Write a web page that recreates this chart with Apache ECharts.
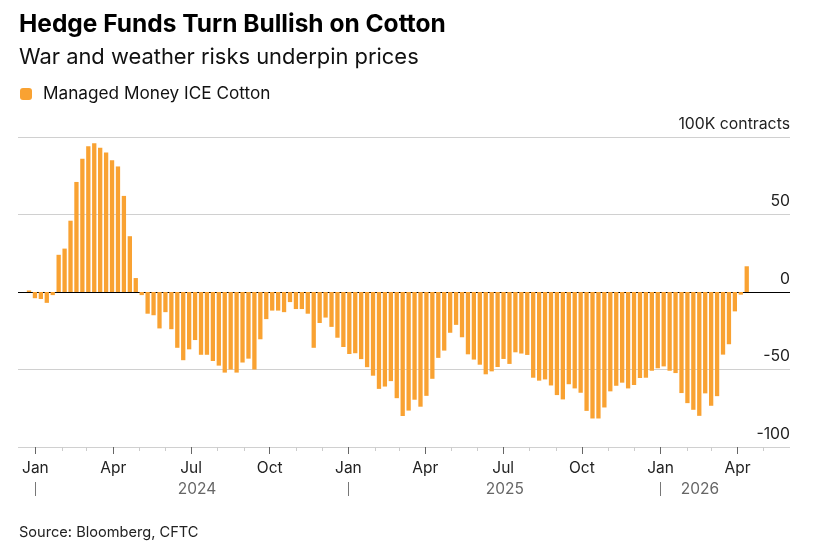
<!DOCTYPE html>
<html>
<head>
<meta charset="utf-8">
<script src="https://cdn.jsdelivr.net/npm/echarts@6/dist/echarts.min.js"></script>
<style>
html,body{margin:0;padding:0;background:#fff;}
#chart{width:821px;height:550px;}
</style>
</head>
<body>
<div id="chart"></div>
<script>
// ---- data ----
const weekDates = [
  '2023-12-26',
  '2024-01-02','2024-01-09','2024-01-16','2024-01-23','2024-01-30','2024-02-06','2024-02-13','2024-02-20','2024-02-27',
  '2024-03-05','2024-03-12','2024-03-19','2024-03-26','2024-04-02','2024-04-09','2024-04-16','2024-04-23','2024-04-30',
  '2024-05-07','2024-05-14','2024-05-21','2024-05-28','2024-06-04','2024-06-11','2024-06-18','2024-06-25','2024-07-02',
  '2024-07-09','2024-07-16','2024-07-23','2024-07-30','2024-08-06','2024-08-13','2024-08-20','2024-08-27','2024-09-03',
  '2024-09-10','2024-09-17','2024-09-24','2024-10-01','2024-10-08','2024-10-15','2024-10-22','2024-10-29','2024-11-05',
  '2024-11-12','2024-11-19','2024-11-26','2024-12-03','2024-12-10','2024-12-17','2024-12-24','2024-12-31',
  '2025-01-07','2025-01-14','2025-01-21','2025-01-28','2025-02-04','2025-02-11','2025-02-18','2025-02-25','2025-03-04',
  '2025-03-11','2025-03-18','2025-03-25','2025-04-01','2025-04-08','2025-04-15','2025-04-22','2025-04-29','2025-05-06',
  '2025-05-13','2025-05-20','2025-05-27','2025-06-03','2025-06-10','2025-06-17','2025-06-24','2025-07-01','2025-07-08',
  '2025-07-15','2025-07-22','2025-07-29','2025-08-05','2025-08-12','2025-08-19','2025-08-26','2025-09-02','2025-09-09',
  '2025-09-16','2025-09-23','2025-09-30','2025-10-07','2025-10-14','2025-10-21','2025-10-28','2025-11-04','2025-11-11',
  '2025-11-18','2025-11-25','2025-12-02','2025-12-09','2025-12-16','2025-12-23','2025-12-30',
  '2026-01-06','2026-01-13','2026-01-20','2026-01-27','2026-02-03','2026-02-10','2026-02-17','2026-02-24','2026-03-03',
  '2026-03-10','2026-03-17','2026-03-24','2026-03-31','2026-04-07','2026-04-14','2026-04-21'
];
// Managed money net position, thousand contracts
const cottonNet = [
  1,
  -4, -4.5, -7, -2, 24, 28, 46, 71, 86,
  94, 96, 93, 90, 85, 81, 62, 36, 9,
  -2, -14, -15, -23.5, -13, -24, -36, -44, -37,
  -31, -40.5, -40.5, -44.5, -47.5, -52, -50, -52, -45.5,
  -43, -50, -30.5, -17.5, -12, -12, -13, -6.5, -11,
  -11, -14, -36, -20, -16.5, -22.5, -29.5, -35.5,
  -40, -39.5, -43.3, -48.5, -54, -62.5, -61, -57.5, -68.5,
  -80, -76.5, -69.5, -74, -67, -56, -42.5, -37.8, -26.3,
  -21.2, -29.2, -40.2, -43.6, -46.9, -53.1, -51.2, -48.4, -43.2,
  -46.4, -38.9, -39.7, -40.6, -55.3, -57.2, -56.4, -60.3, -66.5,
  -69.3, -59.5, -62.2, -65, -76.7, -81.6, -81.6, -74.5, -64.1,
  -60.5, -58.5, -62.2, -60, -55.5, -55.3,
  -50.8, -49.2, -48, -50.8, -52.3, -65.2, -71.7, -76, -79.9,
  -65.4, -73.4, -67.2, -40.4, -33.7, -12.5, -1.7, 16.6
];
const quarterTicks = ['2024-01-01','2024-04-01','2024-07-01','2024-10-01','2025-01-01','2025-04-01','2025-07-01','2025-10-01','2026-01-01','2026-04-01'];
const quarterLabels = ['Jan','Apr','Jul','Oct','Jan','Apr','Jul','Oct','Jan','Apr'];
const monthTicks = ['2024-02-01','2024-03-01','2024-05-01','2024-06-01','2024-08-01','2024-09-01','2024-11-01','2024-12-01',
  '2025-02-01','2025-03-01','2025-05-01','2025-06-01','2025-08-01','2025-09-01','2025-11-01','2025-12-01',
  '2026-02-01','2026-03-01','2026-05-01'];
const yearTicks = ['2024-01-01','2025-01-01','2026-01-01'];
const yearLabelDates = ['2024-07-08','2025-07-03','2026-02-16'];
const yearLabels = ['2024','2025','2026'];
const yTickLabels = {'100':'100K contracts','50':'50','0':'0','-50':'-50','-100':'-100'};

// ---- chart ----
const DAY = 86400000;
const t0 = Date.parse('2024-01-01T00:00:00Z');
// position on the date axis, in days since 2024-01-01
const dayOf = s => (Date.parse(s + 'T00:00:00Z') - t0) / DAY;
const quarterD = quarterTicks.map(dayOf);
const monthD = monthTicks.map(dayOf);
const yearD = yearTicks.map(dayOf);
const yearLabelD = yearLabelDates.map(dayOf);
const xMin = -20.35;
const xMax = 882.4;
const FONT = 'Inter, "Liberation Sans", Arial, sans-serif';
const ORANGE = '#F9A232';
function pick(list, labels, v) {
  for (let i = 0; i < list.length; i++) if (Math.abs(list[i] - v) < 0.01) return labels[i];
  return '';
}
const G = { top: 137, bottom: 103 };
const gridFull = { left: 18, right: 31, top: G.top, bottom: G.bottom, outerBoundsMode: 'none' };
const noLine = { show: false, onZero: false };

const chart = echarts.init(document.getElementById('chart'), null, { renderer: 'canvas' });
chart.setOption({
  animation: false,
  backgroundColor: '#fff',
  textStyle: { fontFamily: FONT },
  title: [
    { text: 'Hedge Funds Turn Bullish on Cotton', left: 19, top: 12, padding: 0,
      textStyle: { fontFamily: FONT, fontSize: 24.5, fontWeight: 'bold', color: '#000' } },
    { text: 'War and weather risks underpin prices', left: 19, top: 46, padding: 0,
      textStyle: { fontFamily: FONT, fontSize: 21.9, fontWeight: 'normal', color: '#111' } },
    { text: 'Source: Bloomberg, CFTC', left: 19, top: 525, padding: 0,
      textStyle: { fontFamily: FONT, fontSize: 14.6, fontWeight: 'normal', color: '#222' } }
  ],
  legend: {
    left: 20, top: 85.5, padding: 0, itemWidth: 12, itemHeight: 12,
    data: [{ name: 'Managed Money ICE Cotton', icon: 'roundRect', itemStyle: { color: ORANGE } }],
    textStyle: { fontFamily: FONT, fontSize: 17.2, color: '#111', padding: [0, 0, 0, 6] }
  },
  grid: [
    { left: 26.03, right: 71.3, top: G.top, bottom: G.bottom, outerBoundsMode: 'none' },
    Object.assign({}, gridFull),
    Object.assign({}, gridFull),
    Object.assign({}, gridFull)
  ],
  xAxis: [
    { type: 'category', gridIndex: 0, data: weekDates, show: false, boundaryGap: true },
    { type: 'value', gridIndex: 1, min: xMin, max: xMax, position: 'bottom',
      axisLine: noLine, splitLine: { show: false },
      axisTick: { show: true, customValues: quarterD, length: 7, lineStyle: { color: '#666', width: 1 } },
      axisLabel: { show: true, customValues: quarterD, margin: 13, fontSize: 15.5, color: '#222', fontFamily: FONT,
        formatter: v => pick(quarterD, quarterLabels, v) } },
    { type: 'value', gridIndex: 2, min: xMin, max: xMax, position: 'bottom', offset: 35,
      axisLine: noLine, splitLine: { show: false },
      axisTick: { show: true, customValues: yearD, length: 14, lineStyle: { color: '#777', width: 1 } },
      axisLabel: { show: true, customValues: yearLabelD, margin: -1, fontSize: 15.5, color: '#666', fontFamily: FONT,
        formatter: v => pick(yearLabelD, yearLabels, v) } },
    { type: 'value', gridIndex: 3, min: xMin, max: xMax, position: 'bottom',
      axisLine: noLine, splitLine: { show: false },
      axisTick: { show: true, customValues: monthD, length: 4, lineStyle: { color: '#ccc', width: 1 } },
      axisLabel: { show: false } }
  ],
  yAxis: [
    { type: 'value', gridIndex: 0, min: -100, max: 100, show: false },
    { type: 'value', gridIndex: 1, min: -100, max: 100, interval: 50, position: 'right',
      axisLine: noLine, axisTick: { show: false },
      splitLine: { show: true, lineStyle: { color: ['#d0d0d0', '#d0d0d0', '#000', '#d0d0d0', '#d0d0d0'], width: 1 } },
      axisLabel: { show: true, inside: true, margin: 0, verticalAlign: 'bottom', padding: [0, 0, 5, 0],
        showMinLabel: true, showMaxLabel: true,
        fontSize: 15.8, color: '#222', fontFamily: FONT,
        formatter: v => yTickLabels[String(v)] !== undefined ? yTickLabels[String(v)] : String(v) } },
    { type: 'value', gridIndex: 2, min: -100, max: 100, show: false },
    { type: 'value', gridIndex: 3, min: -100, max: 100, show: false }
  ],
  series: [
    { type: 'bar', name: 'Managed Money ICE Cotton', xAxisIndex: 0, yAxisIndex: 0,
      data: cottonNet, barWidth: 4.3, itemStyle: { color: ORANGE }, z: 5 }
  ]
});
</script>
</body>
</html>
